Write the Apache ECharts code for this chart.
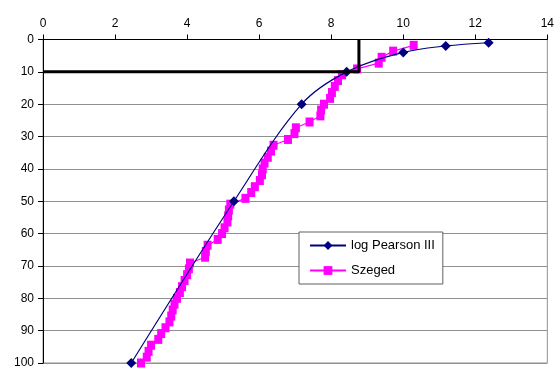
<!DOCTYPE html>
<html><head><meta charset="utf-8">
<script src="https://cdn.jsdelivr.net/npm/echarts@6/dist/echarts.min.js"></script>
<style>html,body{margin:0;padding:0;background:#fff}#c{width:557px;height:369px}</style>
</head><body><div id="c"></div>
<script>
const xTicks = [0, 2, 4, 6, 8, 10, 12, 14];
const yTicks = [0, 10, 20, 30, 40, 50, 60, 70, 80, 90, 100];
const pearsonX = [12.37, 11.18, 10.0, 8.43, 7.18, 5.3, 2.45];
const pearsonY = [1, 2, 4, 10, 20, 50, 100];
const szegedX = [10.29, 9.72, 9.40, 9.32, 8.72, 8.30, 8.19, 8.10, 8.02, 7.97,
  7.80, 7.72, 7.70, 7.40, 7.02, 6.98, 6.80, 6.40, 6.33, 6.24,
  6.15, 6.10, 6.08, 6.02, 5.88, 5.78, 5.62, 5.20, 5.16, 5.14,
  5.12, 5.04, 4.97, 4.85, 4.57, 4.52, 4.50, 4.08, 4.05, 4.00,
  3.93, 3.86, 3.80, 3.72, 3.65, 3.60, 3.56, 3.51, 3.40, 3.28,
  3.20, 3.00, 2.93, 2.88, 2.72];
const szegedY = [1.8, 3.6, 5.5, 7.3, 9.1, 10.9, 12.7, 14.5, 16.4, 18.2,
  20.0, 21.8, 23.6, 25.5, 27.3, 29.1, 30.9, 32.7, 34.5, 36.4,
  38.2, 40.0, 41.8, 43.6, 45.5, 47.3, 49.1, 50.9, 52.7, 54.5,
  56.4, 58.2, 60.0, 61.8, 63.6, 65.5, 67.3, 69.1, 70.9, 72.7,
  74.5, 76.4, 78.2, 80.0, 81.8, 83.6, 85.5, 87.3, 89.1, 90.9,
  92.7, 94.5, 96.4, 98.2, 100];
const refX = [0, 8.77, 8.77];
const refY = [10, 10, 0];

const zip = (a, b) => a.map((v, i) => [v, b[i]]);
const font = 'Liberation Sans, Arial, sans-serif';
const chart = echarts.init(document.getElementById('c'), null, {renderer: 'canvas'});
chart.setOption({
  animation: false,
  backgroundColor: '#fff',
  grid: {left: 43, top: 39.5, right: 8, bottom: 4.5, show: true, borderColor: '#909090', borderWidth: 1},
  xAxis: {
    type: 'value', position: 'top', min: 0, max: 14, interval: 2,
    axisLine: {onZero: false, lineStyle: {color: '#000', width: 1}},
    axisTick: {show: true, length: 5, lineStyle: {color: '#000'}},
    axisLabel: {color: '#000', fontFamily: font, fontSize: 12, margin: 10},
    splitLine: {show: false}
  },
  yAxis: {
    type: 'value', inverse: true, min: 0, max: 100, interval: 10,
    axisLine: {onZero: false, lineStyle: {color: '#000', width: 1}},
    axisTick: {show: true, length: 5, lineStyle: {color: '#000'}},
    axisLabel: {color: '#000', fontFamily: font, fontSize: 12, margin: 9},
    splitLine: {show: true, lineStyle: {color: '#909090', width: 1}}
  },
  legend: {
    data: ['log Pearson III', 'Szeged'],
    orient: 'vertical', left: 299, top: 232,
    backgroundColor: '#fff', borderColor: '#606060', borderWidth: 1,
    padding: [7, 8, 7, 10], itemGap: 12, itemWidth: 36, itemHeight: 11,
    selectedMode: false,
    textStyle: {color: '#000', fontFamily: font, fontSize: 13}
  },
  series: [
    {
      name: 'ref', type: 'line', data: zip(refX, refY), symbol: 'none',
      lineStyle: {color: '#000', width: 3}, z: 5, silent: true
    },
    {
      name: 'log Pearson III', type: 'line', data: zip(pearsonX, pearsonY),
      smooth: 0.35, symbol: 'diamond', symbolSize: 10,
      itemStyle: {color: '#000080'}, lineStyle: {color: '#000080', width: 1.2}, z: 3
    },
    {
      name: 'Szeged', type: 'line', data: zip(szegedX, szegedY),
      symbol: 'rect', symbolSize: [8, 9],
      itemStyle: {color: '#ff00ff'}, lineStyle: {color: '#ff00ff', width: 1.2}, z: 2
    }
  ]
});
</script></body></html>
